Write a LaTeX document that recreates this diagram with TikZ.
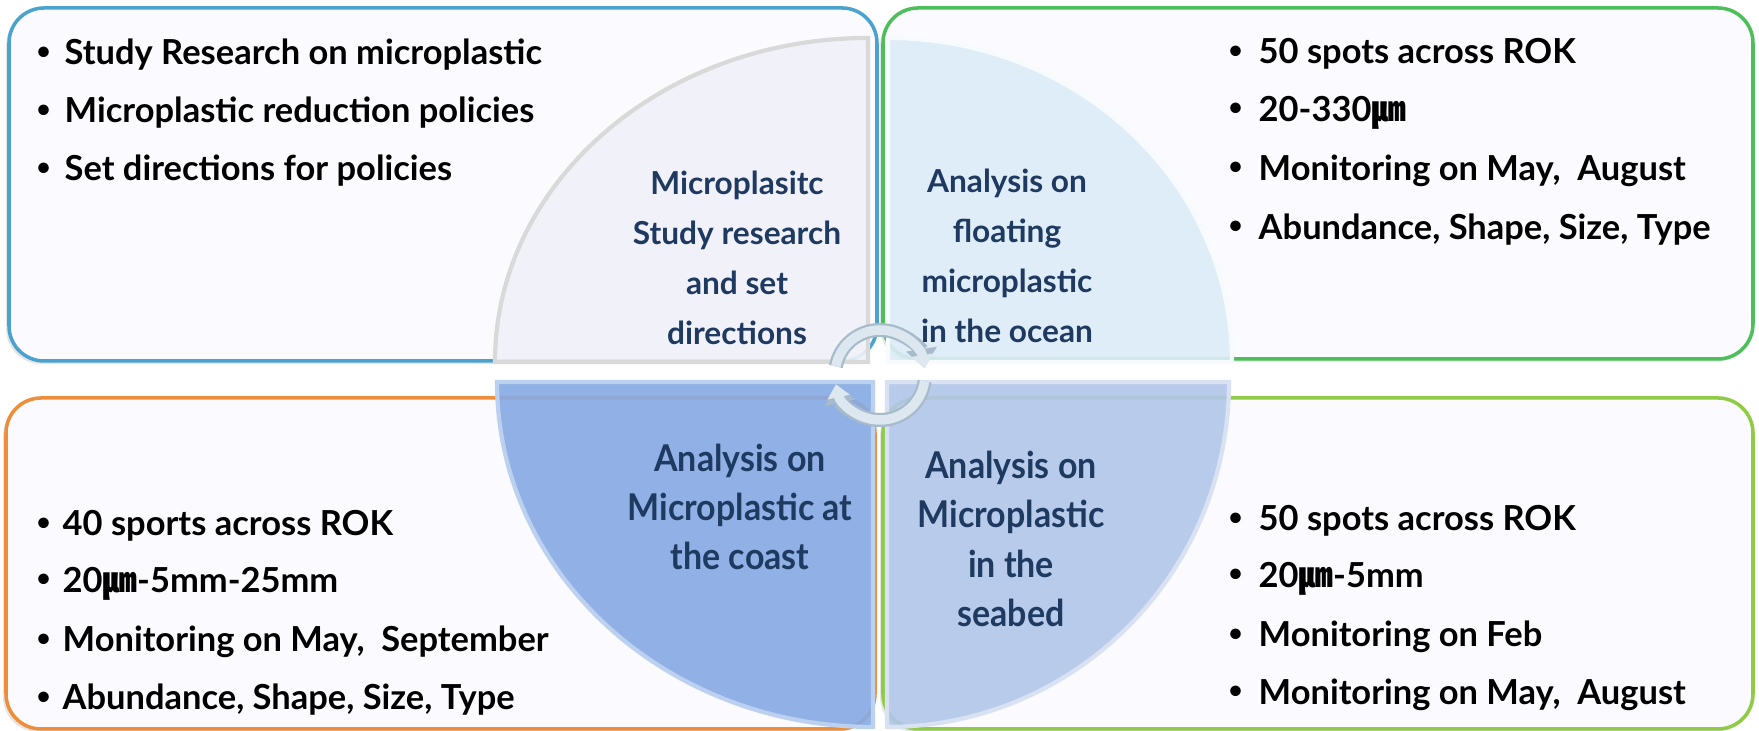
\documentclass[tikz,border=0pt]{standalone}
\usepackage{fontspec}
\setmainfont{Lato}
\newfontfamily\narrowfont[FakeStretch=0.92]{Lato}
\newfontfamily\cjk{Noto Sans CJK KR}
\usetikzlibrary{arrows.meta, shadows}

\definecolor{boxfill}{HTML}{FBFAFE}
\definecolor{tlline}{HTML}{4AA3CF}
\definecolor{trline}{HTML}{4CBF5A}
\definecolor{blline}{HTML}{EE8E3A}
\definecolor{brline}{HTML}{8FCB45}
\definecolor{tlfill}{HTML}{F1F1F9}
\definecolor{trfill}{HTML}{DDECF8}
\definecolor{blfill}{HTML}{86AAE4}
\definecolor{brfill}{HTML}{B2C6E8}
\definecolor{quadtext}{HTML}{1F3A60}
\definecolor{ringcol}{HTML}{DCE7EF}
\definecolor{ringedge}{HTML}{A7BBCB}

\newcommand{\dotmark}{\raisebox{0.32ex}{\scalebox{0.7}{\textbullet}}}

\tikzset{
	box/.style = {fill = boxfill, line width = 1pt, rounded corners = 0.35cm,
		drop shadow = {shadow xshift = -0.03cm, shadow yshift = -0.03cm, opacity = 0.2}},
	quad/.style = {fill opacity = 0.9, line width = 1.2pt},
	item/.style = {anchor = west, inner sep = 0pt, font = \bfseries\fontsize{9.8}{11}\selectfont},
	quadlabel/.style = {align = center, text = quadtext, inner sep = 0pt, font = \bfseries\fontsize{9}{14.2}\selectfont},
	cycleedge/.style = {draw = ringedge, line width = 0.14cm, -{Triangle[width = 0.3cm, length = 0.19cm]}},
	cyclearrow/.style = {draw = ringcol, line width = 0.095cm, -{Triangle[width = 0.22cm, length = 0.13cm]}}
}

\begin{document}
\begin{tikzpicture}[x = 0.01cm, y = 0.01cm]

	% Definitions
	
	\def\cx{880}		% Centre of the cycle
	\def\cy{356}
	
	\def\rr{45}		% Radius of the cycle arrows
	
	\useasboundingbox [fill = white] (0, 0) rectangle (1759, 731);
	
	% Draw boxes
	
	\draw [box, draw = tlline] (9, 370) rectangle (877, 723);
	\draw [box, draw = trline] (883, 372) rectangle (1753, 723);
	\draw [box, draw = blline] (6, 2) rectangle (875, 333);
	\draw [box, draw = brline] (883, 2) rectangle (1753, 333);
	
	% Draw quadrants
	
	\draw [quad, fill = tlfill, draw = gray!30] (868, 369) -- (495, 369) arc [start angle = 180, end angle = 90, x radius = 373, y radius = 324] -- cycle;
	\draw [quad, fill = trfill, draw = white!80!trfill] (888, 369) -- (888, 693) arc [start angle = 90, end angle = 0, x radius = 344, y radius = 324] -- cycle;
	\draw [quad, fill = blfill, draw = white!45!blfill] (873, 349) -- (497, 349) arc [start angle = 180, end angle = 270, x radius = 376, y radius = 345] -- cycle;
	\draw [quad, fill = brfill, draw = white!50!brfill] (887, 349) -- (887, 4) arc [start angle = 270, end angle = 360, x radius = 342, y radius = 345] -- cycle;
	
	% Draw cycle arrows
	
	\foreach \s in {cycleedge, cyclearrow}
	{
		\draw [\s] (\cx, \cy) ++(169 : \rr) arc [start angle = 169, end angle = 9, radius = \rr];
		\draw [\s] (\cx, \cy) ++(-8 : \rr) arc [start angle = -8, end angle = -168, radius = \rr];
	}
	
	% Quadrant labels
	
	\node [quadlabel] (studyq) at (737, 473) {Microplasitc\\Study research\\and set\\directions};
	\node [quadlabel] (oceanq) at (1007, 475) {Analysis on\\floating\\microplastic\\in the ocean};
	\node [quadlabel, font = \narrowfont\bfseries\fontsize{10.5}{13.9}\selectfont] (coastq) at (740, 224) {Analysis on\\Microplastic at\\the coast};
	\node [quadlabel, font = \narrowfont\bfseries\fontsize{10.5}{14.1}\selectfont] (seabedq) at (1011, 192) {Analysis on\\Microplastic\\in the\\seabed};
	
	% Draw bullets
	
	\foreach \n/\t in {1/Study Research on microplastic, 2/Microplastic reduction policies, 3/Set directions for policies}
	{
		\node [item] (study\n) at (36, {676 - (\n - 1) * 58}) {\makebox[0.28cm][l]{\dotmark}\t};
	}
	
	\foreach \n/\t in {1/50 spots across ROK, 2/20-330{\cjk ㎛}, 3/{Monitoring on May,~ August}, 4/{Abundance, Shape, Size, Type}}
	{
		\node [item] (ocean\n) at (1228, {677 - (\n - 1) * 58.5}) {\makebox[0.30cm][l]{\dotmark}\t};
	}
	
	\foreach \n/\t in {1/40 sports across ROK, 2/20{\cjk ㎛}-5mm-25mm, 3/{Monitoring on May,~ September}, 4/{Abundance, Shape, Size, Type}}
	{
		\node [item] (coast\n) at (36, {205 - (\n - 1) * 58}) {\makebox[0.26cm][l]{\dotmark}\t};
	}
	
	\foreach \n/\t in {1/50 spots across ROK, 2/20{\cjk ㎛}-5mm, 3/Monitoring on Feb, 4/{Monitoring on May,~ August}}
	{
		\node [item] (seabed\n) at (1228, {210 - (\n - 1) * 58}) {\makebox[0.30cm][l]{\dotmark}\t};
	}
	
\end{tikzpicture}
\end{document}
